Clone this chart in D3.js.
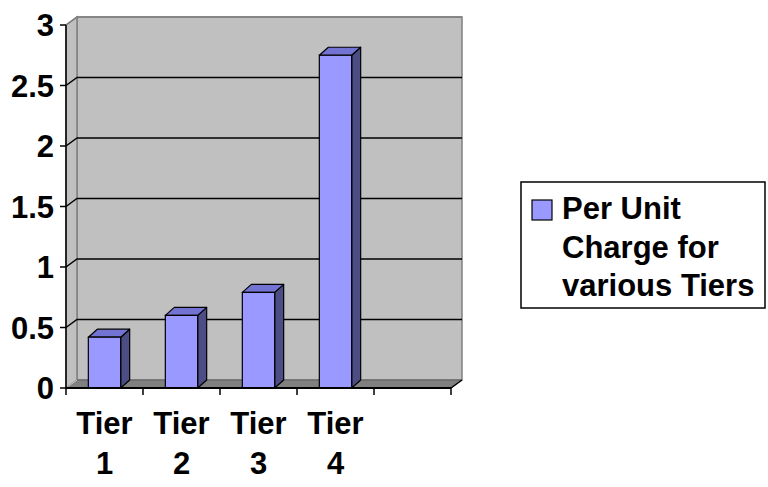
<!DOCTYPE html>
<html>
<head>
<meta charset="utf-8">
<script src="https://cdn.jsdelivr.net/npm/d3@7"></script>
<style>
    body { margin: 0; background: #fff; }
    text { font-family: "Liberation Sans", Arial, sans-serif; font-weight: bold; fill: #000; }
</style>
</head>
<body>
<div id="chart"></div>
<script>
var categories = ["Tier 1", "Tier 2", "Tier 3", "Tier 4", ""];
var values = [0.42, 0.6, 0.79, 2.75];
var yTicks = [0, 0.5, 1, 1.5, 2, 2.5, 3];
var seriesName = ["Per Unit", "Charge for", "various Tiers"];

var width = 768, height = 487;
// depth offsets of the fake 3d wall and of the bars
var wallDx = 11, wallDy = -8;
var barDx = 9, barDy = -8;

var svg = d3.select("#chart").append("svg")
    .attr("width", width)
    .attr("height", height);

var x = d3.scaleBand()
    .domain(d3.range(categories.length))
    .range([66, 451])
    .paddingInner(0)
    .paddingOuter(0);

var y = d3.scaleLinear()
    .domain([0, 3])
    .range([388, 25]);

var x0 = x.range()[0], x1 = x.range()[1];
var yTop = y(3), yBot = y(0);

// back wall
svg.append("rect")
    .attr("x", x0 + wallDx)
    .attr("y", yTop + wallDy)
    .attr("width", x1 - x0)
    .attr("height", yBot - yTop)
    .style("fill", "#c0c0c0")
    .style("stroke", "#808080")
    .style("stroke-width", 1.5);

// left side wall
svg.append("polygon")
    .attr("points", [[x0, yTop], [x0 + wallDx, yTop + wallDy], [x0 + wallDx, yBot + wallDy], [x0, yBot]].join(" "))
    .style("fill", "#c0c0c0")
    .style("stroke", "#808080")
    .style("stroke-width", 1.5);

// floor
svg.append("polygon")
    .attr("points", [[x0, yBot], [x0 + wallDx, yBot + wallDy], [x1 + wallDx, yBot + wallDy], [x1, yBot]].join(" "))
    .style("fill", "#808080")
    .style("stroke", "#606060")
    .style("stroke-width", 1);

// floor edge of the side wall
svg.append("line")
    .attr("x1", x0).attr("y1", yBot)
    .attr("x2", x0 + wallDx).attr("y2", yBot + wallDy)
    .style("stroke", "#d0d0d0")
    .style("stroke-width", 1);

// gridlines (side wall diagonal + back wall)
var grid = svg.append("g");
yTicks.filter(function (d) { return d > 0 && d < 3; }).forEach(function (t) {
    grid.append("polyline")
        .attr("points", [[x0, y(t)], [x0 + wallDx, y(t) + wallDy], [x1 + wallDx, y(t) + wallDy]].join(" "))
        .style("fill", "none")
        .style("stroke", "#000")
        .style("stroke-width", 1.5);
});
// top edge of the walls stays gray
svg.append("polyline")
    .attr("points", [[x0, yTop], [x0 + wallDx, yTop + wallDy], [x1 + wallDx, yTop + wallDy]].join(" "))
    .style("fill", "none")
    .style("stroke", "#808080")
    .style("stroke-width", 1.5);

// bars
var barW = x.bandwidth() * 0.42;
var bars = svg.append("g").selectAll("g")
    .data(values)
    .enter()
    .append("g");

bars.each(function (d, i) {
    var g = d3.select(this);
    var bx = x(i) + (x.bandwidth() - barW) / 2;
    var by = y(d);
    // side
    g.append("polygon")
        .attr("points", [[bx + barW, by], [bx + barW + barDx, by + barDy], [bx + barW + barDx, yBot + barDy], [bx + barW, yBot]].join(" "))
        .style("fill", "#4d4d85")
        .style("stroke", "#000")
        .style("stroke-width", 1.2)
        .style("stroke-linejoin", "round");
    // top
    g.append("polygon")
        .attr("points", [[bx, by], [bx + barDx, by + barDy], [bx + barW + barDx, by + barDy], [bx + barW, by]].join(" "))
        .style("fill", "#7373d4")
        .style("stroke", "#000")
        .style("stroke-width", 1.2)
        .style("stroke-linejoin", "round");
    // front
    g.append("rect")
        .attr("x", bx)
        .attr("y", by)
        .attr("width", barW)
        .attr("height", yBot - by)
        .style("fill", "#9999ff")
        .style("stroke", "#000")
        .style("stroke-width", 1.2);
});

// y axis
svg.append("line")
    .attr("x1", x0).attr("y1", yTop)
    .attr("x2", x0).attr("y2", yBot)
    .style("stroke", "#000")
    .style("stroke-width", 1.5);

var yAxis = svg.append("g");
yTicks.forEach(function (t) {
    yAxis.append("line")
        .attr("x1", x0 - 6).attr("y1", y(t))
        .attr("x2", x0).attr("y2", y(t))
        .style("stroke", "#000")
        .style("stroke-width", 1.5);
    yAxis.append("text")
        .attr("x", 54)
        .attr("y", y(t))
        .attr("dy", "0.36em")
        .style("text-anchor", "end")
        .style("font-size", "31px")
        .text(d3.format("")(t));
});

// x axis
svg.append("line")
    .attr("x1", x0).attr("y1", yBot)
    .attr("x2", x1).attr("y2", yBot)
    .style("stroke", "#000")
    .style("stroke-width", 2);

// right end of the floor front edge
svg.append("line")
    .attr("x1", x1).attr("y1", yBot)
    .attr("x2", x1 + wallDx).attr("y2", yBot + wallDy)
    .style("stroke", "#000")
    .style("stroke-width", 1.5);

var xAxis = svg.append("g");
d3.range(categories.length + 1).forEach(function (i) {
    var tx = i < categories.length ? x(i) : x1;
    xAxis.append("line")
        .attr("x1", tx).attr("y1", yBot)
        .attr("x2", tx).attr("y2", yBot + 7)
        .style("stroke", "#000")
        .style("stroke-width", 1.5);
});

categories.forEach(function (c, i) {
    if (!c) return;
    var parts = c.split(" ");
    var cx = x(i) + x.bandwidth() / 2;
    var t = xAxis.append("text")
        .attr("x", cx)
        .attr("y", 434)
        .style("text-anchor", "middle")
        .style("font-size", "31px");
    parts.forEach(function (p, k) {
        t.append("tspan")
            .attr("x", cx)
            .attr("y", 434 + k * 40)
            .text(p);
    });
});

// legend
var legend = svg.append("g");
legend.append("rect")
    .attr("x", 521)
    .attr("y", 182)
    .attr("width", 244)
    .attr("height", 126)
    .style("fill", "#fff")
    .style("stroke", "#000")
    .style("stroke-width", 1.5);
legend.append("rect")
    .attr("x", 532)
    .attr("y", 200)
    .attr("width", 20)
    .attr("height", 20)
    .style("fill", "#9999ff")
    .style("stroke", "#000")
    .style("stroke-width", 1.2);
seriesName.forEach(function (s, k) {
    legend.append("text")
        .attr("x", 562)
        .attr("y", 219 + k * 38.5)
        .style("font-size", "31px")
        .text(s);
});
</script>
</body>
</html>
